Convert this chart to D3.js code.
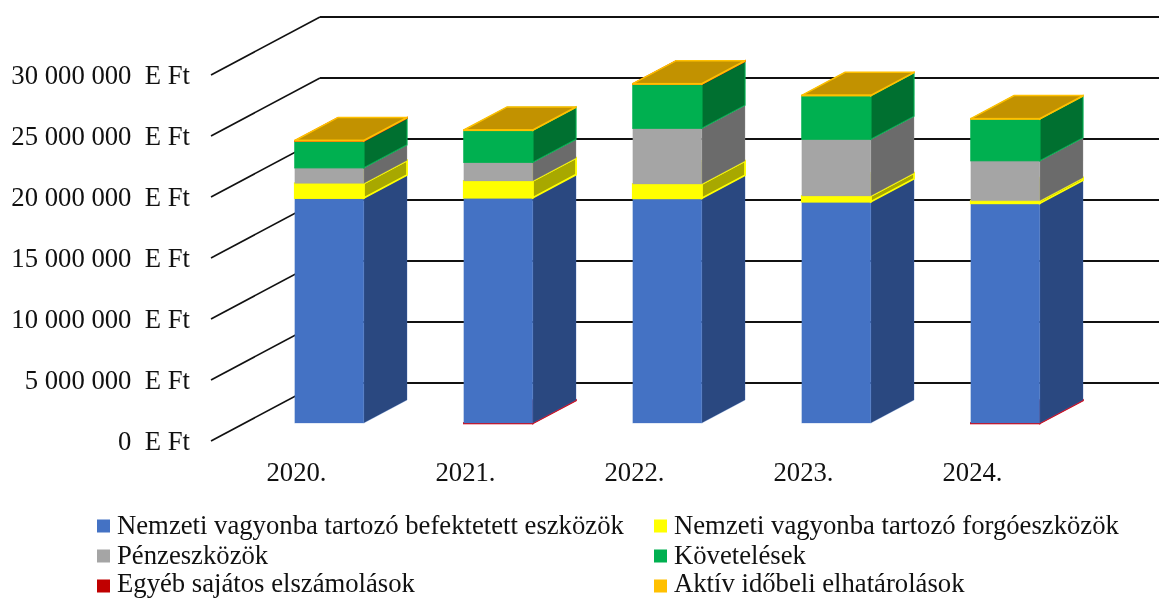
<!DOCTYPE html>
<html>
<head>
<meta charset="utf-8">
<script src="https://cdnjs.cloudflare.com/ajax/libs/d3/7.8.5/d3.min.js"></script>
<style>
    html, body { margin: 0; padding: 0; background: #fff; overflow: hidden; }
    text { font-family: "Liberation Serif", serif; fill: #111; white-space: pre; }
    #chart { filter: blur(0.4px); }
</style>
</head>
<body>
<svg id="chart" width="1159" height="598"></svg>
<script>
const YEARS = ['2020.', '2021.', '2022.', '2023.', '2024.'];

const SERIES_NAMES = [
    'Nemzeti vagyonba tartozó befektetett eszközök',
    'Nemzeti vagyonba tartozó forgóeszközök',
    'Pénzeszközök',
    'Követelések',
    'Egyéb sajátos elszámolások',
    'Aktív időbeli elhatárolások'
];

// values, in Ft
const BEFEKTETETT = [18440000, 18470000, 18420000, 18140000, 18010000];
const FORGO = [1200000, 1370000, 1170000, 470000, 210000];
const PENZ = [1280000, 1530000, 4570000, 4650000, 3280000];
const KOVETELES = [2190000, 2620000, 3610000, 3570000, 3420000];
const EGYEB = [20000, -40000, 15000, 0, -40000];
const AKTIV = [30000, 30000, 30000, 30000, 30000];

const TICKS = [0, 5000000, 10000000, 15000000, 20000000, 25000000, 30000000];

const COLORS = ['#4472C4', '#FFFF00', '#A5A5A5', '#00B050', '#D01020', '#FFC000'];
const LEGEND_COLORS = ['#4472C4', '#FFFF00', '#A5A5A5', '#00B050', '#C00000', '#FFC000'];
const SIDE_COLORS = ['#2A4880', '#A8A800', '#6B6B6B', '#007030', '#800000', '#A88000'];
const TOP_COLORS = ['#5B84CC', '#D8D800', '#8A8A8A', '#009040', '#A00000', '#C29200'];
const EDGE_WIDTHS = [1, 1.8, 1, 1.2, 1.6, 1.5];
const EDGE_OPACITY = [0.25, 1, 0.25, 0.9, 1, 1];

const FONT_SIZE = 26.7;

const rows = YEARS.map((year, i) => ({
    year: year,
    [SERIES_NAMES[0]]: BEFEKTETETT[i],
    [SERIES_NAMES[1]]: FORGO[i],
    [SERIES_NAMES[2]]: PENZ[i],
    [SERIES_NAMES[3]]: KOVETELES[i],
    [SERIES_NAMES[4]]: EGYEB[i],
    [SERIES_NAMES[5]]: AKTIV[i]
}));

const svg = d3.select('#chart');

const x = d3.scaleBand()
    .domain(YEARS)
    .range([211, 1056])
    .paddingInner(0.592)
    .paddingOuter(0.296);

const y = d3.scaleLinear()
    .domain([0, 30000000])
    .range([441, 75]);

// depth of the 3d box: 0 is the front of the side wall, 1 the back wall
const depthX = d3.scaleLinear().domain([0, 1]).range([0, 109]);
const depthY = d3.scaleLinear().domain([0, 1]).range([0, -58]);
const BAR_FRONT = 0.31;
const BAR_BACK = 0.707;

const fmt = d3.formatLocale({ thousands: ' ', grouping: [3], decimal: ',', currency: ['', ''] }).format(',');

// gridlines: side wall and back wall
const grid = svg.append('g');

grid.selectAll('.wall')
    .data(TICKS)
    .enter().append('line')
    .attr('x1', x.range()[0])
    .attr('y1', d => y(d))
    .attr('x2', x.range()[0] + depthX(1))
    .attr('y2', d => y(d) + depthY(1))
    .attr('stroke', '#111')
    .attr('stroke-width', 1.6);

grid.selectAll('.back')
    .data(TICKS)
    .enter().append('line')
    .attr('x1', x.range()[0] + depthX(1))
    .attr('y1', d => y(d) + depthY(1))
    .attr('x2', 1159)
    .attr('y2', d => y(d) + depthY(1))
    .attr('stroke', '#111')
    .attr('stroke-width', 2);

// value axis
const yAxis = d3.axisLeft(y)
    .tickValues(TICKS)
    .tickSize(0)
    .tickPadding(0)
    .tickFormat(d => fmt(d) + '  E Ft');

svg.append('g')
    .attr('transform', 'translate(190,0)')
    .call(yAxis)
    .call(g => g.select('.domain').remove())
    .selectAll('text')
    .attr('font-size', FONT_SIZE)
    .style('font-family', '"Liberation Serif", serif')
    .attr('fill', '#111');

// category axis
const xAxis = d3.axisBottom(x).tickSize(0).tickPadding(0);

svg.append('g')
    .attr('transform', 'translate(1,462)')
    .call(xAxis)
    .call(g => g.select('.domain').remove())
    .selectAll('text')
    .attr('font-size', FONT_SIZE)
    .style('font-family', '"Liberation Serif", serif')
    .attr('fill', '#111');

// stacked boxes, negative values go below the zero plane
const stacked = d3.stack()
    .keys(SERIES_NAMES)
    .offset(d3.stackOffsetDiverging)(rows);

const zeroShift = depthY(BAR_FRONT);
const backDx = depthX(BAR_BACK);
const backDy = depthY(BAR_BACK);
const frontDx = depthX(BAR_FRONT);

const segments = [];
stacked.forEach((layer, s) => {
    layer.forEach(d => {
        if (d[0] === d[1]) return;
        segments.push({ s: s, year: d.data.year, low: Math.min(d[0], d[1]), high: Math.max(d[0], d[1]) });
    });
});
segments.sort((a, b) => a.low - b.low);

const bars = svg.append('g');

segments.forEach(seg => {
    const x0 = x(seg.year) + frontDx;
    const x1 = x0 + x.bandwidth();
    const xb = x1 - frontDx + backDx;
    const xl = x0 - frontDx + backDx;
    const yHigh = y(seg.high) + zeroShift;
    const yLow = y(seg.low) + zeroShift;
    const dy = backDy - zeroShift;

    // side face
    bars.append('path')
        .attr('d', d3.line()([[x1, yHigh], [xb, yHigh + dy], [xb, yLow + dy], [x1, yLow]]) + 'Z')
        .attr('fill', SIDE_COLORS[seg.s])
        .attr('stroke', COLORS[seg.s])
        .attr('stroke-opacity', EDGE_OPACITY[seg.s])
        .attr('stroke-width', EDGE_WIDTHS[seg.s]);

    // top face
    bars.append('path')
        .attr('d', d3.line()([[x0, yHigh], [x1, yHigh], [xb, yHigh + dy], [xl, yHigh + dy]]) + 'Z')
        .attr('fill', TOP_COLORS[seg.s])
        .attr('stroke', COLORS[seg.s])
        .attr('stroke-width', EDGE_WIDTHS[seg.s]);

    // front face
    bars.append('rect')
        .attr('x', x0)
        .attr('y', yHigh)
        .attr('width', x.bandwidth())
        .attr('height', yLow - yHigh)
        .attr('fill', COLORS[seg.s])
        .attr('stroke', COLORS[seg.s])
        .attr('stroke-opacity', EDGE_OPACITY[seg.s])
        .attr('stroke-width', EDGE_WIDTHS[seg.s]);
});

// legend, filled row by row in two columns
const legendX = d3.scaleOrdinal().domain([0, 1]).range([97, 654]);
const swatchY = d3.scaleOrdinal().domain([0, 1, 2]).range([526, 556, 586]);
const labelY = d3.scaleOrdinal().domain([0, 1, 2]).range([534, 564, 591.5]);

const legend = svg.append('g')
    .selectAll('g')
    .data(SERIES_NAMES)
    .enter().append('g')
    .attr('transform', (d, i) => `translate(${legendX(i % 2)},0)`);

legend.append('rect')
    .attr('x', 0)
    .attr('y', (d, i) => swatchY(Math.floor(i / 2)) - 6.5)
    .attr('width', 13)
    .attr('height', 13)
    .attr('fill', (d, i) => LEGEND_COLORS[i]);

legend.append('text')
    .attr('x', 20)
    .attr('y', (d, i) => labelY(Math.floor(i / 2)))
    .attr('font-size', FONT_SIZE)
    .text(d => d);
</script>
</body>
</html>
